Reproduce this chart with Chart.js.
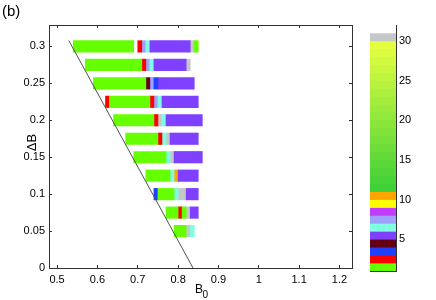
<!DOCTYPE html>
<html><head><meta charset="utf-8">
<script src="https://cdn.jsdelivr.net/npm/chart.js@4"></script>
<style>
html,body{margin:0;padding:0;background:#fff;}
#wrap{position:relative;width:436px;height:300px;overflow:hidden;}
#main{position:absolute;left:0;top:0;}
#cbar{position:absolute;left:340px;top:0;}
</style></head><body>
<div id="wrap">
<canvas id="main" width="436" height="300"></canvas>
<canvas id="cbar" width="96" height="300"></canvas>
</div>
<script>
// ---- data ----
const deltaB   = [0.3, 0.275, 0.25, 0.225, 0.2, 0.175, 0.15, 0.125, 0.1, 0.075, 0.05];
const rowStart = [0.54, 0.57, 0.59, 0.62, 0.64, 0.67, 0.69, 0.72, 0.74, 0.77, 0.79];
const cellWidth = 0.01;
// period runs per row: [period, number of cells]
const rowRuns = [
  [[1,15],[31,1],[2,1],[7,1],[6,1],[5,10],[30,1],[1,1]],
  [[1,14],[2,1],[7,1],[6,1],[5,8],[30,1]],
  [[1,13],[4,1],[7,1],[3,1],[5,9]],
  [[2,1],[1,10],[2,1],[7,1],[6,1],[5,9]],
  [[1,10],[2,1],[30,1],[6,1],[5,9]],
  [[1,8],[2,1],[6,1],[30,1],[5,7]],
  [[1,8],[6,1],[30,1],[5,7]],
  [[1,6],[6,1],[10,1],[5,5]],
  [[3,1],[1,4],[6,1],[30,2],[5,3]],
  [[1,3],[2,1],[1,1],[30,1],[5,2]],
  [[1,3],[30,1],[6,1]]
];
const boundaryB0 = [0.837, 0.529];
const boundaryDB = [0, 0.308];
const xTicks = [0.5, 0.6, 0.7, 0.8, 0.9, 1, 1.1, 1.2];
const yTicks = [0, 0.05, 0.1, 0.15, 0.2, 0.25, 0.3];
const cbarTicks = [5, 10, 15, 20, 25, 30];
const cbarLevels = [1,2,3,4,5,6,7,8,9,10,11,12,13,14,15,16,17,18,19,20,21,22,23,24,25,26,27,28,29,30,31];

// ---- colour map (style) ----
const fixedColors = {1:'#66ff00',2:'#ff0000',3:'#1f40ff',4:'#640014',5:'#8040ff',6:'#80ffe0',
  7:'#a0a0ff',8:'#c03cff',9:'#ffff00',10:'#ffa500',30:'#c4c8c8',31:'#ffffff'};
function levelColor(k){
  if (fixedColors[k]) return fixedColors[k];
  const t = (k-11)/18; // gradient levels 11..29
  const a=[64,208,56], b=[228,255,64];
  const c=a.map((v,i)=>Math.round(v+(b[i]-v)*t));
  return `rgb(${c[0]},${c[1]},${c[2]})`;
}

const FONT = "'Liberation Sans', Arial, Helvetica, sans-serif";
Chart.defaults.font.family = FONT;
Chart.defaults.color = '#000';

// ---- build bar datasets (one per period) ----
const byPeriod = {};
deltaB.forEach((db, r) => {
  let pos = 0;
  rowRuns[r].forEach(([p, n]) => {
    const s = +(rowStart[r] + pos*cellWidth).toFixed(4);
    const e = +(rowStart[r] + (pos+n)*cellWidth).toFixed(4);
    (byPeriod[p] = byPeriod[p] || []).push({y: db, x: [s, e]});
    pos += n;
  });
});
const barSets = Object.keys(byPeriod).map(p => ({
  type:'bar', indexAxis:'y', grouped:false, order:1,
  data: byPeriod[p], backgroundColor: levelColor(+p), borderWidth:0, barThickness:11.5
}));
const lineSet = {
  type:'line', order:0, indexAxis:'y',
  data: boundaryB0.map((b,i)=>({x:b, y:boundaryDB[i]})),
  borderColor:'#505050', borderWidth:1, pointRadius:0, fill:false, tension:0
};

const axisColor = '#333';
const fmt = v => String(+(+v).toFixed(3));
const setTicks = arr => (s => { s.ticks = arr.map(v=>({value:v})); });
const gridIn = {display:true, drawOnChartArea:false, drawTicks:true, tickLength:-3, color:axisColor, offset:false};
const borderOn = {display:true, color:axisColor, width:1};

const labelPlugin = {
  id:'labels',
  afterDraw(chart){
    const ctx = chart.ctx;
    ctx.save();
    ctx.fillStyle = '#000';
    ctx.textBaseline = 'alphabetic';
    ctx.textAlign = 'left';
    ctx.font = "15px " + FONT;
    ctx.fillText('(b)', 2, 16);
    ctx.font = "12px " + FONT;
    ctx.fillText('B', 195, 292.5);
    ctx.font = "10px " + FONT;
    ctx.fillText('0', 202.5, 297.5);
    ctx.translate(36, 142.5);
    ctx.rotate(-Math.PI/2);
    ctx.textAlign = 'center';
    ctx.font = "13px " + FONT;
    ctx.fillText('\u0394B', 0, 0);
    ctx.restore();
  }
};

new Chart(document.getElementById('main'), {
  type:'bar',
  data:{datasets:[lineSet, ...barSets]},
  options:{
    indexAxis:'y', responsive:false, animation:false, events:[],
    layout:{padding:{left:0, right:84, top:25, bottom:0}},
    plugins:{legend:{display:false}, tooltip:{enabled:false}},
    scales:{
      x:{type:'linear', position:'bottom', min:0.48, max:1.231, offset:false,
         afterFit(s){ s.height = 32; }, afterBuildTicks:setTicks(xTicks),
         grid:gridIn, border:borderOn,
         ticks:{padding:8, font:{size:11}, color:'#000', callback:fmt, maxRotation:0, autoSkip:false}},
      x2:{type:'linear', position:'top', min:0.48, max:1.231, offset:false,
         afterFit(s){ s.height = 0; }, afterBuildTicks:setTicks(xTicks),
         grid:gridIn, border:borderOn, ticks:{display:false}},
      y:{type:'linear', position:'left', min:0, max:0.329, offset:false,
         afterFit(s){ s.width = 49; }, afterBuildTicks:setTicks(yTicks),
         grid:gridIn, border:borderOn,
         ticks:{padding:7, font:{size:11}, color:'#000', callback:fmt, autoSkip:false}},
      y2:{type:'linear', position:'right', min:0, max:0.329, offset:false,
         afterFit(s){ s.width = 0; }, afterBuildTicks:setTicks(yTicks),
         grid:gridIn, border:borderOn, ticks:{display:false}}
    }
  },
  plugins:[labelPlugin]
});

// ---- colour bar ----
new Chart(document.getElementById('cbar'), {
  type:'bar',
  data:{datasets:[{
    data: cbarLevels.map(k=>({x:0.5, y:[k, k+1]})),
    backgroundColor: cbarLevels.map(levelColor),
    borderWidth:0, barThickness:26, grouped:false
  }]},
  options:{
    responsive:false, animation:false, events:[],
    layout:{padding:{left:30, right:0, top:25, bottom:29}},
    plugins:{legend:{display:false}, tooltip:{enabled:false}},
    scales:{
      x:{type:'linear', position:'bottom', min:0, max:1, offset:false,
         afterFit(s){ s.height = 0; }, grid:{display:false, offset:false}, border:borderOn, ticks:{display:false}},
      x2:{type:'linear', position:'top', min:0, max:1, offset:false,
         afterFit(s){ s.height = 0; }, grid:{display:false, offset:false}, border:borderOn, ticks:{display:false}},
      y:{type:'linear', position:'right', min:1, max:32, offset:false,
         afterFit(s){ s.width = 40; }, afterBuildTicks:setTicks(cbarTicks),
         grid:gridIn, border:borderOn,
         ticks:{padding:6, font:{size:11}, color:'#000', autoSkip:false}},
      y2:{type:'linear', position:'left', min:1, max:32, offset:false,
         afterFit(s){ s.width = 0; }, afterBuildTicks:setTicks(cbarTicks),
         grid:gridIn, border:borderOn, ticks:{display:false}}
    }
  }
});
</script>
</body></html>
